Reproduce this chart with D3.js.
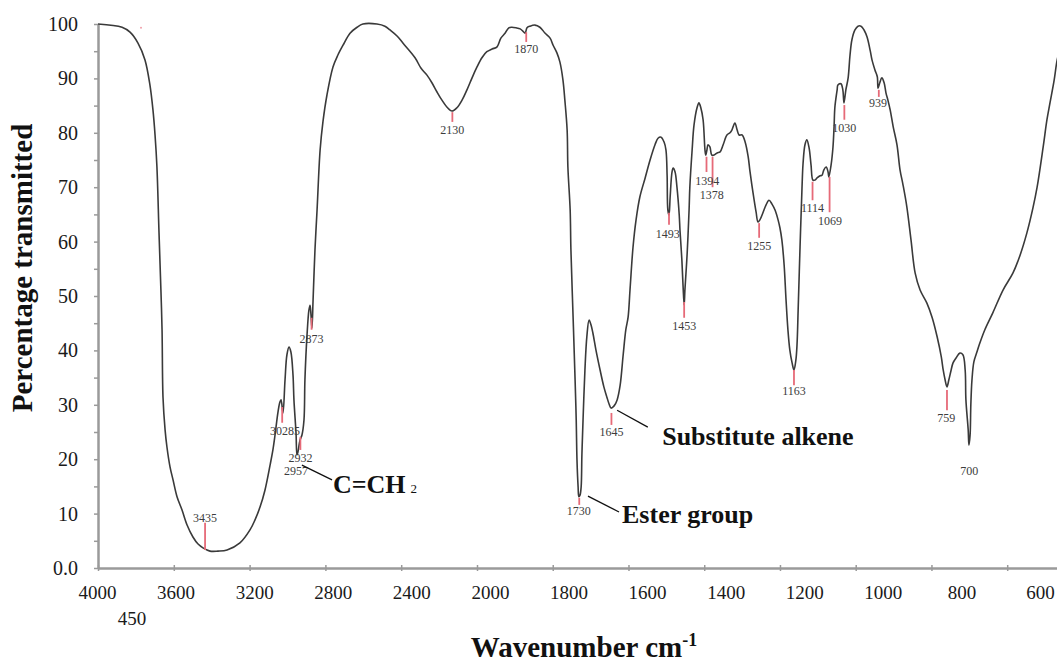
<!DOCTYPE html>
<html><head><meta charset="utf-8">
<script src="https://cdn.jsdelivr.net/npm/d3@7"></script>
<style>body{margin:0;background:#fff} svg{display:block}</style>
</head><body>
<svg id="chart" width="1057" height="662"></svg>
<script>
// ---- Spectrum (wavenumber cm-1, % transmitted) ----
const spectrumWN = [4000,3873,3831,3789,3752,3726,3710,3699,3689,3678,3668,3662,3657,3646,3636,3620,3604,3583,3557,3530,3499,3472,3446,3409,3367,3319,3251,3198,3172,3145,3119,3092,3077,3066,3050,3040,3034,3024,3013,3003,2992,2982,2971,2966,2955,2950,2945,2934,2924,2913,2908,2897,2887,2881,2876,2871,2865,2855,2844,2828,2813,2792,2760,2734,2707,2670,2633,2602,2528,2486,2459,2422,2391,2327,2296,2264,2238,2211,2185,2158,2132,2106,2079,2053,2026,2000,1987,1974,1960,1947,1937,1926,1916,1908,1897,1886,1879,1873,1868,1860,1847,1834,1820,1807,1799,1789,1781,1773,1768,1762,1760,1754,1752,1746,1741,1738,1736,1733,1731,1728,1725,1723,1720,1715,1710,1704,1699,1694,1686,1675,1665,1657,1651,1646,1638,1630,1622,1614,1607,1601,1596,1588,1580,1570,1556,1543,1530,1522,1514,1506,1501,1498,1496,1493,1490,1485,1482,1477,1472,1466,1464,1459,1456,1453,1451,1445,1440,1438,1432,1427,1419,1414,1409,1403,1398,1396,1393,1390,1385,1380,1374,1366,1358,1350,1340,1332,1327,1319,1313,1308,1300,1292,1284,1279,1271,1263,1258,1253,1245,1237,1229,1221,1213,1205,1200,1195,1189,1184,1179,1174,1168,1163,1158,1155,1152,1147,1142,1139,1134,1129,1123,1118,1113,1108,1102,1094,1089,1084,1078,1073,1071,1065,1060,1057,1055,1049,1047,1039,1034,1031,1026,1020,1015,1010,1002,994,986,978,970,962,957,949,943,941,936,931,925,920,915,909,901,891,883,875,865,854,843,830,812,798,785,774,769,764,759,754,748,743,735,725,717,711,709,703,701,698,696,693,688,680,672,659,638,611,585,566,548,532,521,505,495,487,476,468,458];
const spectrumT = [100.0,99.4,98.5,96.5,93.4,88.8,84.2,79.6,73.7,61.6,51.1,43.8,31.4,25.4,22.2,18.6,16.2,13.1,10.7,7.9,5.7,4.4,3.7,3.1,3.1,3.3,4.6,7.0,8.8,11.2,14.3,18.9,21.7,24.4,28.7,30.5,30.9,28.5,34.6,39.2,40.6,39.7,35.5,30.9,24.8,20.8,21.3,23.5,24.4,27.2,34.6,42.8,47.4,48.3,46.5,44.1,49.3,58.5,65.8,76.8,82.0,86.9,92.1,94.3,96.1,98.3,99.4,100.0,100.0,99.6,98.9,97.8,96.5,93.8,91.9,90.6,89.2,87.5,86.0,84.7,84.0,84.6,86.0,87.9,90.1,92.1,93.8,94.9,95.4,95.8,97.4,98.3,99.3,99.4,99.3,99.1,98.7,98.3,99.3,99.6,99.8,99.4,98.3,97.4,96.1,94.7,93.0,89.7,86.0,80.5,73.7,65.8,58.5,45.6,34.6,27.2,19.9,14.9,13.1,13.4,14.9,20.8,27.2,36.4,42.5,45.6,44.7,43.2,40.1,36.4,33.3,31.4,30.1,29.4,29.8,30.9,33.6,39.2,43.8,46.1,51.1,59.0,64.0,68.2,71.7,75.0,77.8,79.0,79.2,78.3,76.8,72.2,65.8,64.9,68.2,72.8,73.5,72.8,70.0,64.9,62.1,56.6,52.0,48.3,51.1,57.9,65.8,70.0,76.8,81.4,84.6,85.5,84.6,82.4,76.8,75.9,76.8,77.8,77.4,75.9,75.9,76.3,76.5,77.8,79.6,80.0,80.5,81.8,80.5,79.6,79.6,78.3,75.6,72.8,68.9,65.4,63.6,64.0,65.3,66.7,67.6,66.9,65.8,64.0,62.5,60.3,55.7,49.3,43.8,40.1,37.7,36.4,38.2,41.0,47.4,59.0,69.5,74.4,77.8,78.7,77.2,74.1,71.3,71.3,71.7,72.1,72.2,73.2,73.7,72.8,71.9,74.1,77.4,81.4,84.7,87.9,88.8,89.0,87.9,85.5,87.9,90.1,94.3,97.1,98.9,99.6,99.6,98.9,97.6,95.2,93.4,91.5,90.3,88.2,89.3,90.1,89.2,87.3,86.0,84.2,81.1,77.8,73.2,70.4,66.4,60.3,54.2,51.1,48.7,46.0,42.5,38.8,36.4,34.6,33.3,34.6,36.4,37.7,38.6,39.5,39.2,36.4,30.9,25.4,22.6,24.4,30.0,34.6,37.9,39.7,41.4,43.8,46.9,51.1,54.2,57.5,61.6,66.2,70.0,77.4,82.4,85.5,89.7,93.4,96.1];

// ---- Axis ticks ----
const xTickValues = [4000,3600,3200,2800,2400,2000,1800,1600,1400,1200,1000,800,600];
const xTickLabels = ["4000","3600","3200","2800","2400","2000","1800","1600","1400","1200","1000","800","600"];
const yTickValues = [0,5,10,15,20,25,30,35,40,45,50,55,60,65,70,75,80,85,90,95,100];
const yTickLabels = {0:"0.0",10:"10",20:"20",30:"30",40:"40",50:"50",60:"60",70:"70",80:"80",90:"90",100:"100"};
const extraXLabel = "450";

// ---- Peak annotations ----
const peakWN     = [3435,3028,2932,2957,2873,2130,1870,1730,1645,1493,1453,1394,1378,1255,1163,1114,1069,1030,939,759,700];
const peakText   = ["3435","30285","2932","2957","2873","2130","1870","1730","1645","1493","1453","1394","1378","1255","1163","1114","1069","1030","939","759","700"];
const labelWN    = [3435,3013,2932,2955,2873,2130,1870,1731,1645,1496,1453,1392,1380,1255,1163,1114,1068,1030,941,761,700];
const labelT     = [8.5,24.4,19.5,17.1,41.4,79.8,94.7,9.7,24.3,60.7,43.8,70.4,67.8,58.5,31.8,65.4,63.1,80.1,84.7,26.8,17.1];
const lineTopT   = [8.3,29.6,24.1,null,46.0,83.8,98.5,12.9,28.5,65.3,48.9,75.6,75.6,63.4,36.4,71.0,71.9,85.1,87.9,32.7,null];
const lineBotT   = [3.3,26.7,21.7,null,43.8,82.0,96.7,11.6,26.3,63.1,46.0,72.8,70.0,60.7,33.6,67.6,65.4,82.4,86.6,29.0,null];
const strayMarkWN = [3773];
const strayMarkT  = [99.3];

// ---- Group annotations ----
const groupText   = ["C=CH","Substitute alkene","Ester group"];
const groupSub    = ["2","",""];
const groupFromWN = [2924,1630,1707];
const groupFromT  = [18.9,29.0,13.2];
const groupToWN   = [2765,1549,1625];
const groupToT    = [16.2,25.9,10.3];
const groupTextWN = [2760,1511,1617];
const groupTextT  = [13.8,22.6,8.3];

const serif = "'Liberation Serif','Times New Roman',Times,serif";
const svg = d3.select("#chart");

const x = d3.scaleLinear().domain([4000,2000,450]).range([98,477,1064]);
const y = d3.scaleLinear().domain([0,100]).range([568,24]);

// X axis (ticks)
const gx = svg.append("g").attr("transform",`translate(0,${y(0)})`)
  .call(d3.axisBottom(x).tickValues(xTickValues).tickSize(3).tickSizeOuter(0).tickFormat(""));
gx.select(".domain").attr("stroke","#9a9a9a").attr("stroke-width",2.5);
gx.selectAll(".tick line").attr("stroke","#9a9a9a").attr("stroke-width",1.5).attr("y1",-3).attr("y2",3);

// X tick labels (drawn on their own evenly spaced label scale)
const xLab = d3.scalePoint().domain(xTickLabels).range([97,1040]);
const gxl = svg.append("g").attr("transform",`translate(0,${y(0)})`)
  .call(d3.axisBottom(xLab).tickSize(0).tickPadding(18));
gxl.select(".domain").remove();
gxl.selectAll("text").attr("font-family",serif).attr("font-size",19).attr("fill","#1a1a1a");
svg.append("text").attr("x",xLab("4000")+35).attr("y",y(0)+57)
  .attr("text-anchor","middle").attr("font-family",serif).attr("font-size",19).attr("fill","#1a1a1a").text(extraXLabel);

// Y axis
const gy = svg.append("g").attr("transform",`translate(${x(4000)},0)`)
  .call(d3.axisLeft(y).tickValues(yTickValues).tickSize(4).tickSizeOuter(0).tickPadding(16)
    .tickFormat(d => yTickLabels[d] || ""));
gy.select(".domain").attr("stroke","#9a9a9a").attr("stroke-width",2.5);
gy.selectAll(".tick line").attr("stroke","#9a9a9a").attr("stroke-width",1.5);
gy.selectAll("text").attr("font-family",serif).attr("font-size",20).attr("fill","#1a1a1a");

// Spectrum
const line = d3.line().x(d=>x(d[0])).y(d=>y(d[1])).curve(d3.curveCatmullRom.alpha(0.5));
svg.append("path").datum(d3.zip(spectrumWN, spectrumT))
  .attr("fill","none").attr("stroke","#3a3a3a").attr("stroke-width",1.6).attr("d",line);

// Peak marker lines
const peaks = peakWN.map((w,i)=>({w, t:peakText[i], lw:labelWN[i], lt:labelT[i], a:lineTopT[i], b:lineBotT[i]}));
svg.append("g").selectAll("line").data(peaks.filter(p=>p.a!==null)).join("line")
  .attr("x1",p=>x(p.w)).attr("x2",p=>x(p.w)).attr("y1",p=>y(p.a)).attr("y2",p=>y(p.b))
  .attr("stroke","#e66a78").attr("stroke-width",1.8);
svg.append("g").selectAll("text").data(peaks).join("text")
  .attr("x",p=>x(p.lw)).attr("y",p=>y(p.lt)).attr("text-anchor","middle")
  .attr("font-family",serif).attr("font-size",12).attr("fill","#3c3c3c").text(p=>p.t);
svg.append("g").selectAll("circle").data(d3.zip(strayMarkWN, strayMarkT)).join("circle")
  .attr("cx",d=>x(d[0])).attr("cy",d=>y(d[1])).attr("r",1).attr("fill","#f0a0aa");

// Group annotations
const groups = groupText.map((t,i)=>({t, s:groupSub[i], fw:groupFromWN[i], ft:groupFromT[i], tw:groupToWN[i], tt:groupToT[i], xw:groupTextWN[i], xt:groupTextT[i]}));
svg.append("g").selectAll("line").data(groups).join("line")
  .attr("x1",g=>x(g.fw)).attr("y1",g=>y(g.ft)).attr("x2",g=>x(g.tw)).attr("y2",g=>y(g.tt))
  .attr("stroke","#111").attr("stroke-width",1.3);
const gt = svg.append("g").selectAll("text").data(groups).join("text")
  .attr("x",g=>x(g.xw)).attr("y",g=>y(g.xt))
  .attr("font-family",serif).attr("font-size",26).attr("font-weight","bold").attr("fill","#111");
gt.append("tspan").text(g=>g.t);
gt.filter(g=>g.s).append("tspan").attr("dx",5).attr("font-size",13).attr("font-weight","normal").text(g=>g.s);

// Axis titles
svg.append("text").attr("transform","translate(32,268) rotate(-90)")
  .attr("text-anchor","middle").attr("font-family",serif).attr("font-size",29).attr("font-weight","bold").attr("fill","#111")
  .text("Percentage transmitted");
const xt = svg.append("text").attr("x",584).attr("y",657).attr("text-anchor","middle")
  .attr("font-family",serif).attr("font-size",29).attr("font-weight","bold").attr("fill","#111");
xt.append("tspan").text("Wavenumber cm");
xt.append("tspan").attr("dy",-11).attr("font-size",18).text("-1");
</script>
</body></html>
